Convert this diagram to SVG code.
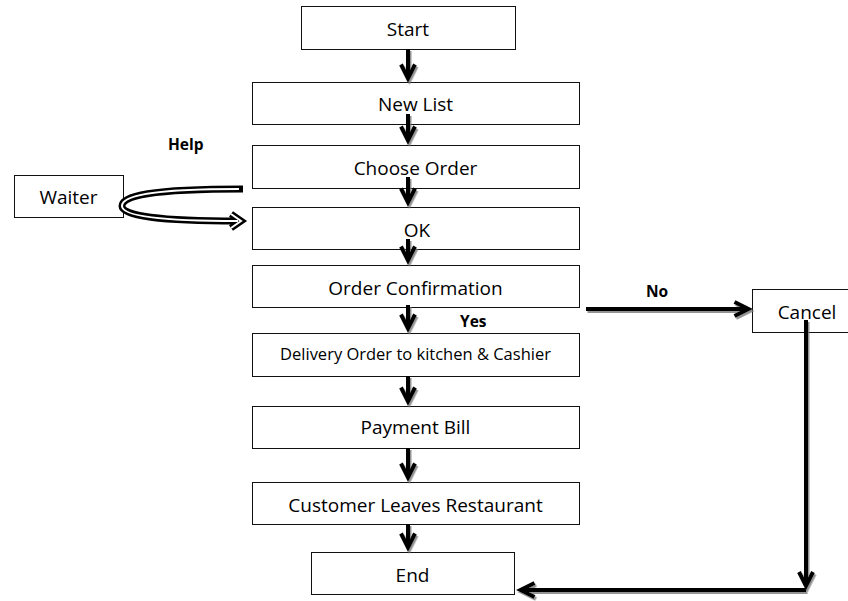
<svg xmlns="http://www.w3.org/2000/svg" width="848" height="601" viewBox="0 0 848 601">
<style>
  .box { fill: #fff; stroke: #111; stroke-width: 1; }
  .lbl { font-family: "Open Sans", "Liberation Sans", sans-serif; font-size: 19px; fill: #000; text-anchor: middle; }
  .small { font-size: 16.5px; }
  .tag { font-family: "Open Sans", "Liberation Sans", sans-serif; font-size: 15.5px; font-weight: bold; fill: #000; }
  .conn { fill: none; stroke: #000; stroke-width: 4; marker-end: url(#chev); }
  .hollowOut { fill: none; stroke: #000; stroke-width: 7; }
  .hollowIn { fill: none; stroke: #fff; stroke-width: 2; }
</style>
<defs>
  <marker id="chev" markerUnits="userSpaceOnUse" viewBox="-20 -12 26 24" markerWidth="26" markerHeight="24" refX="0" refY="0" orient="auto" overflow="visible">
    <path d="M-14,-7 L0,0 L-14,7" fill="none" stroke="#000" stroke-width="4" stroke-linejoin="miter"/>
  </marker>
  <filter id="shadow" x="-20%" y="-20%" width="140%" height="140%">
    <feDropShadow dx="1.5" dy="2" stdDeviation="0.6" flood-color="#777" flood-opacity="0.8"/>
  </filter>
</defs>

<g id="start"><rect class="box" x="301.5" y="6.5" width="214" height="43"/><text class="lbl" x="408" y="36">Start</text></g>
<g id="new-list"><rect class="box" x="252.5" y="82.5" width="327" height="42"/><text class="lbl" x="415.5" y="111">New List</text></g>
<g id="choose-order"><rect class="box" x="252.5" y="145.5" width="327" height="43"/><text class="lbl" x="415.5" y="175">Choose Order</text></g>
<g id="ok"><rect class="box" x="252.5" y="207.5" width="327" height="42"/><text class="lbl" x="417" y="237">OK</text></g>
<g id="order-confirmation"><rect class="box" x="252.5" y="265.5" width="327" height="42"/><text class="lbl" x="415.5" y="295">Order Confirmation</text></g>
<g id="delivery"><rect class="box" x="252.5" y="333.5" width="327" height="43"/><text class="lbl small" x="415.5" y="360">Delivery Order to kitchen &amp; Cashier</text></g>
<g id="payment-bill"><rect class="box" x="252.5" y="406.5" width="327" height="42"/><text class="lbl" x="415.5" y="434">Payment Bill</text></g>
<g id="customer-leaves"><rect class="box" x="252.5" y="482.5" width="327" height="42"/><text class="lbl" x="415.5" y="512">Customer Leaves Restaurant</text></g>
<g id="end"><rect class="box" x="311.5" y="552.5" width="203" height="42"/><text class="lbl" x="412.5" y="582">End</text></g>
<g id="waiter"><rect class="box" x="14.5" y="175.5" width="109" height="42"/><text class="lbl" x="68.5" y="204">Waiter</text></g>
<g id="cancel"><rect class="box" x="752.5" y="289.5" width="100" height="43"/><text class="lbl" x="807" y="319">Cancel</text></g>

<g id="connectors" filter="url(#shadow)">
  <path class="conn" d="M408,49 L408,78.5"/>
  <path class="conn" d="M408,114 L408,140.5"/>
  <path class="conn" d="M408,177 L408,202.5"/>
  <path class="conn" d="M408,239 L408,260.5"/>
  <path class="conn" d="M408,305 L408,328.5"/>
  <path class="conn" d="M408,376 L408,401.5"/>
  <path class="conn" d="M408,448 L408,477.5"/>
  <path class="conn" d="M408,524 L408,547.5"/>
  <path class="conn" d="M586,309 L748.5,309"/>
  <path class="conn" d="M806,320 L806,586"/>
  <path class="conn" d="M806,590 L520.5,590"/>
</g>

<g id="help-arrow">
  <path class="hollowOut" d="M243,189 C150,189 122,196 122,206 C122,216 160,221 238,221"/>
  <path class="hollowOut" d="M231,214 L241,221 L231,228" stroke-linejoin="miter"/>
  <path class="hollowIn" d="M239,189 C150,189 122,196 122,206 C122,216 160,221 238,221"/>
  <path class="hollowIn" d="M231,214 L241,221 L231,228" stroke-linejoin="miter"/>
</g>

<g id="labels">
  <text class="tag" x="168" y="150">Help</text>
  <text class="tag" x="646" y="297">No</text>
  <text class="tag" x="460" y="327">Yes</text>
</g>
</svg>
